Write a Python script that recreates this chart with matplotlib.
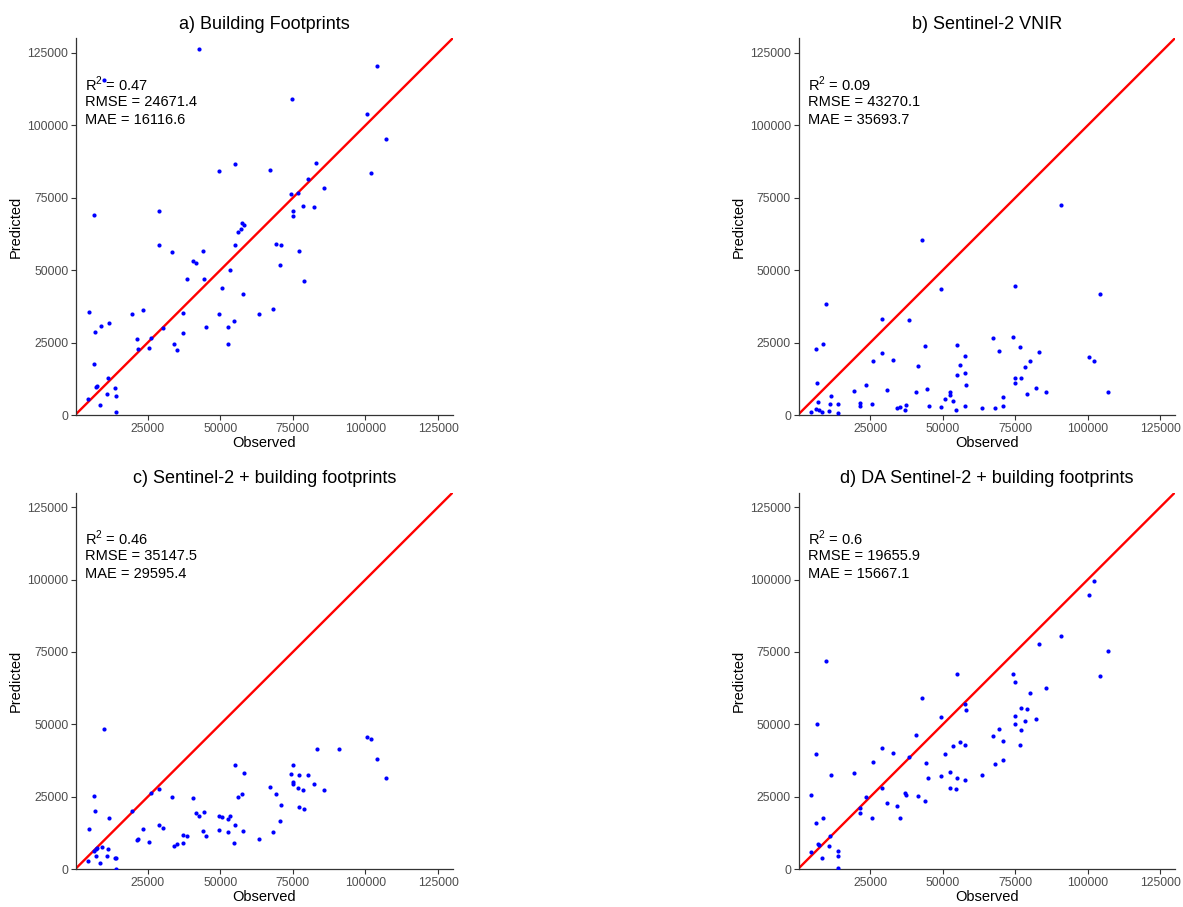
import matplotlib
matplotlib.use("Agg")
import matplotlib.pyplot as plt

plt.rcParams["font.family"] = ["Liberation Sans", "DejaVu Sans"]
plt.rcParams["mathtext.fontset"] = "custom"
plt.rcParams["mathtext.rm"] = "Liberation Sans"

# --- data: (observed, predicted) per panel ---
a_obs = [42800, 104000, 10000, 74800, 100600, 106900, 55000, 49400, 67200, 83100,
         101800, 80200, 85600, 74200, 76600, 78600, 82100, 74900, 74900, 6500,
         29000, 57600, 58300, 57300, 56000, 29000, 33300, 43900, 55000, 69300,
         70800, 77000, 40700, 41500, 70500, 53300, 38400, 44400, 78900, 50600,
         57700, 4700, 19500, 23500, 37300, 49500, 63400, 68100, 6800, 8800,
         11600, 21200, 21800, 25500, 26300, 30400, 34200, 35200, 37000, 45000,
         52600, 52600, 54800, 6500, 7200, 7700, 4500, 8500, 10900, 11200,
         13800, 14100, 14100]
a_pred = [126500, 120500, 115700, 109100, 103900, 95100, 86500, 84100, 84700, 87000,
          83600, 81600, 78500, 76400, 76600, 72200, 71800, 70400, 68700, 68900,
          70300, 66200, 65700, 64200, 63000, 58600, 56100, 56600, 58600, 59100,
          58600, 56500, 53100, 52400, 51900, 50000, 46800, 47100, 46200, 43700,
          41900, 35400, 35000, 36100, 35300, 34700, 35000, 36500, 28700, 30900,
          31600, 26300, 22900, 23200, 26500, 30100, 24600, 22500, 28400, 30400,
          30400, 24600, 32300, 17600, 9700, 10000, 5500, 3300, 7100, 12800,
          9200, 6500, 900]

b_obs = [90800, 42800, 49400, 74800, 104100, 9900, 29000, 38400, 6400, 8800,
         6800, 26000, 28900, 33000, 43900, 41400, 55000, 57500, 56000, 57500,
         55000, 58100, 67200, 69300, 74100, 76500, 80000, 83100, 78400, 74800,
         77000, 74800, 100500, 102000, 106800, 82100, 85700, 78900, 70600, 70600,
         68100, 63400, 54700, 57700, 52600, 52600, 53400, 50600, 49400, 44400,
         45100, 40700, 37300, 37000, 35300, 34200, 30700, 23400, 19500, 21300,
         21600, 25600, 11600, 11200, 10900, 13800, 14000, 6900, 4400, 6300,
         7300, 8400]
b_pred = [72500, 60300, 43500, 44700, 41900, 38400, 33200, 32900, 22900, 24600,
          10900, 18600, 21500, 19000, 23900, 16900, 24100, 20300, 17200, 14600,
          13700, 10200, 26500, 22100, 26900, 23400, 18600, 21700, 16500, 12800,
          12800, 10900, 20100, 18600, 7800, 9400, 7800, 7200, 6100, 3000,
          2600, 2300, 1600, 3000, 7800, 6900, 4800, 5700, 2900, 9000,
          3200, 7800, 3300, 1800, 2800, 2300, 8800, 10200, 8300, 4300,
          3000, 3900, 6400, 3700, 1500, 3700, 600, 4400, 1100, 2000,
          1700, 1100]

c_obs = [10000, 100500, 102000, 83300, 90800, 104000, 106900, 55000, 58300, 74900,
         74200, 74900, 74900, 77000, 80200, 82100, 76600, 78600, 85600, 67200,
         69300, 70800, 70500, 68100, 77000, 78900, 63400, 56100, 57600, 57700,
         55000, 54800, 52600, 53300, 52600, 49500, 50600, 49500, 40700, 41500,
         42800, 44400, 43900, 45000, 37000, 38400, 37000, 35200, 34200, 33300,
         29000, 26300, 29000, 30400, 23500, 25500, 21200, 21800, 19500, 4700,
         6500, 6800, 11600, 6500, 7200, 7700, 9100, 11200, 7100, 10900,
         4500, 8500, 13800, 14100, 14100]
c_pred = [48500, 45700, 45000, 41400, 41400, 38000, 31500, 36000, 33100, 36000,
          32900, 30200, 29500, 32500, 32500, 29600, 28000, 27500, 27500, 28400,
          25900, 22100, 16700, 13000, 21400, 20800, 10600, 24800, 25900, 13300,
          15200, 9200, 17200, 18400, 13000, 18500, 18000, 13600, 24500, 19300,
          18400, 19900, 13300, 11600, 11900, 11600, 9200, 8700, 8000, 24800,
          27800, 26300, 15300, 14100, 14000, 9300, 10100, 10300, 20200, 13900,
          25200, 20100, 17800, 6400, 6900, 7200, 7600, 7000, 4500, 4600,
          2900, 2100, 3800, 3800, 200]

d_obs = [102000, 100500, 90800, 83100, 106800, 9900, 55000, 74100, 74800, 104100,
         85700, 80000, 42800, 57500, 58100, 77000, 78900, 74800, 74800, 78400,
         82100, 77000, 69300, 67200, 70600, 76500, 49400, 40700, 6800, 6400,
         29000, 33000, 38400, 50600, 56000, 53400, 57500, 44300, 45000, 49400,
         52600, 55000, 57800, 63400, 70600, 68100, 26000, 11600, 19500, 52600,
         54700, 29000, 23400, 37000, 37300, 41400, 43900, 30700, 34200, 35300,
         25600, 21600, 21300, 4600, 8800, 6400, 11200, 10900, 6900, 7300,
         8400, 4400, 13800, 14000, 14000]
d_pred = [99400, 94800, 80500, 77700, 75400, 71800, 67300, 67300, 64500, 66600,
          62700, 60700, 59100, 56900, 55000, 55800, 55400, 52800, 50300, 51200,
          51800, 48000, 48500, 46100, 44300, 42900, 52700, 46300, 50200, 39800,
          41900, 40200, 38700, 39800, 44000, 42500, 43000, 36700, 31500, 32100,
          33500, 31400, 30800, 32400, 37700, 36300, 36900, 32700, 33100, 27900,
          27600, 28100, 24800, 26200, 25600, 25400, 23400, 22700, 21700, 17800,
          17800, 21000, 19500, 25500, 17800, 15900, 11600, 8200, 8700, 8400,
          4000, 6100, 6400, 4600, 300]

titles = ["a) Building Footprints", "b) Sentinel-2 VNIR",
          "c) Sentinel-2 + building footprints", "d) DA Sentinel-2 + building footprints"]
r2_vals = ["0.47", "0.09", "0.46", "0.6"]
rmse_vals = ["24671.4", "43270.1", "35147.5", "19655.9"]
mae_vals = ["16116.6", "35693.7", "29595.4", "15667.1"]

x_ticks = [25000, 50000, 75000, 100000, 125000]
y_ticks = [0, 25000, 50000, 75000, 100000, 125000]

panels = [(a_obs, a_pred), (b_obs, b_pred), (c_obs, c_pred), (d_obs, d_pred)]
positions = [
    [0.0642, 0.5424, 0.3184, 0.4153],
    [0.6751, 0.5424, 0.3180, 0.4153],
    [0.0642, 0.0416, 0.3184, 0.4153],
    [0.6751, 0.0416, 0.3180, 0.4153],
]

fig = plt.figure(figsize=(11.83, 9.07), dpi=100)

for i, (obs, pred) in enumerate(panels):
    ax = fig.add_axes(positions[i])
    ax.scatter(obs, pred, s=9, color="#0000FF", linewidths=0, zorder=3)
    ax.axline((0, 0), slope=1, color="#FF0000", lw=1.7, zorder=2)

    ax.set_xlim(300, 130000)
    ax.set_ylim(0, 130000)
    ax.set_xticks(x_ticks)
    ax.set_yticks(y_ticks)
    ax.tick_params(labelsize=8.8, labelcolor="#4D4D4D", color="#333333",
                   length=3.5, width=0.8, pad=2)

    for side in ["top", "right"]:
        ax.spines[side].set_visible(False)
    for side in ["left", "bottom"]:
        ax.spines[side].set_linewidth(0.9)
        ax.spines[side].set_color("#333333")

    ax.set_xlabel("Observed", fontsize=10.5, labelpad=1)
    ax.set_ylabel("Predicted", fontsize=10.5, labelpad=3)
    ax.set_title(titles[i], fontsize=13, pad=7)

    ax.text(3400, 112000, "R$^2$ = " + r2_vals[i], fontsize=10.5, va="baseline")
    ax.text(3400, 106800, "RMSE = " + rmse_vals[i], fontsize=10.5, va="baseline")
    ax.text(3400, 100600, "MAE = " + mae_vals[i], fontsize=10.5, va="baseline")

fig.savefig("out.png", dpi=100)
